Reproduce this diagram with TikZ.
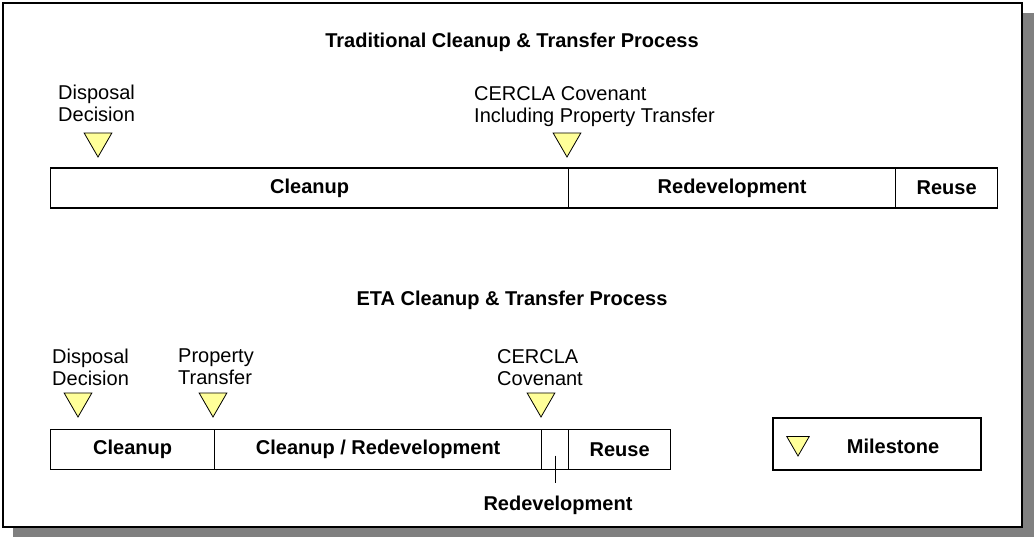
\documentclass[tikz,border=0pt]{standalone}
\usepackage{fontspec}
\setmainfont{Liberation Sans}
\usetikzlibrary{shapes.geometric}
\definecolor{msyellow}{RGB}{255,255,153}
\definecolor{shadowgray}{RGB}{128,128,128}

\tikzset{
  milestone/.style={regular polygon, regular polygon sides=3, shape border rotate=180, draw, fill=msyellow, minimum size=32pt, inner sep=0pt, line width=0.8pt},
  seg/.style={draw, line width=1.3pt, minimum height=40pt, anchor=west, inner sep=0pt, font=\bfseries\fontsize{20}{22}\selectfont},
  lbl/.style={anchor=north west, align=left, inner sep=0pt, font=\fontsize{20}{22}\selectfont},
  ttl/.style={inner sep=0pt, font=\bfseries\fontsize{20}{22}\selectfont}
}

\begin{document}
\begin{tikzpicture}[x=1pt,y=-1pt]
\useasboundingbox (0,0) rectangle (1034,537);
\fill[shadowgray] (13,13) rectangle (1034,537);
\draw[fill=white, line width=1.5pt] (3,3) rectangle (1022,527);

\path (512,42) node[ttl](tradtitle){Traditional Cleanup \& Transfer Process} (512,300) node[ttl](etatitle){ETA Cleanup \& Transfer Process};

\path (50,188) node[seg, minimum width=518pt](tclean){Cleanup} (568,188) node[seg, minimum width=327pt](tredev){Redevelopment} (895,188) node[seg, minimum width=102pt](treuse){Reuse};
\path (58,85) node[lbl](tdisp){Disposal\\Decision} (474,86) node[lbl](tcercla){CERCLA Covenant\\Including Property Transfer};
\path (98,141) node[milestone](tm1){} (567,141) node[milestone](tm2){};

\path (50,449.5) node[seg, minimum width=164pt](eclean){Cleanup} (214,449.5) node[seg, minimum width=327pt](ecleanredev){Cleanup / Redevelopment} (541,449.5) node[seg, minimum width=27pt](eredev){} (568,449.5) node[seg, minimum width=102pt](ereuse){Reuse};
\path (52,349) node[lbl](edisp){Disposal\\Decision} (178,349) node[lbl](etransfer){Property\\Transfer} (497,349) node[lbl](ecercla){CERCLA\\Covenant};
\path (78,401) node[milestone](em1){} (213,401) node[milestone](em2){} (541,401) node[milestone](em3){};
\path (558,505) node[ttl, inner ysep=12pt](redevnote){Redevelopment};
\draw[line width=0.8pt] ([yshift=-6pt]eredev.center) -- (eredev.center |- redevnote.north);

\path (877,444) node[draw, line width=1.3pt, minimum width=208pt, minimum height=52pt](legend){} (798,443) node[milestone, minimum size=26pt](legendmark){} (893,446) node[ttl](legendtext){Milestone};
\end{tikzpicture}
\end{document}
